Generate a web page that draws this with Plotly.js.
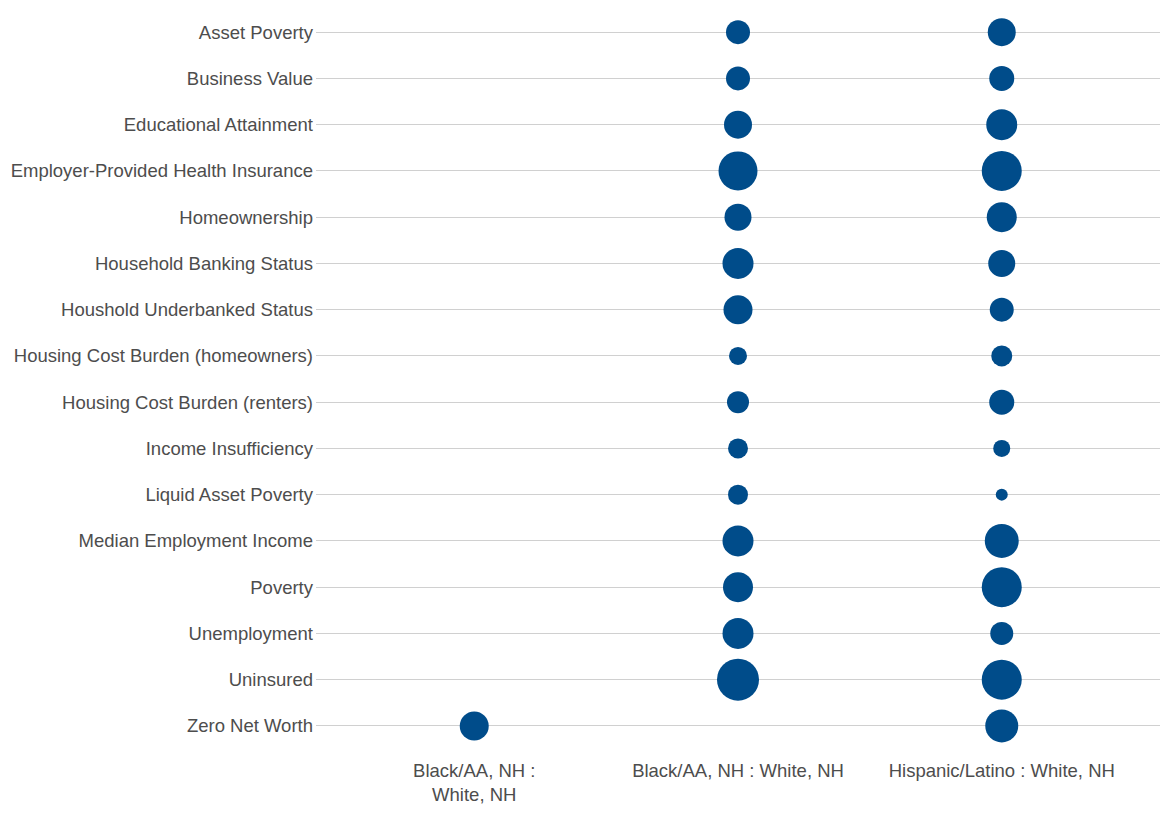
<!DOCTYPE html>
<html>
<head>
<meta charset="utf-8">
<script src="https://cdn.plot.ly/plotly-3.0.1.min.js"></script>
<style>html,body{margin:0;padding:0;background:#fff;}#chart{width:1170px;height:814px;}</style>
</head>
<body>
<div id="chart"></div>
<script>
const indicators = [
  "Asset Poverty", "Business Value", "Educational Attainment",
  "Employer-Provided Health Insurance", "Homeownership",
  "Household Banking Status", "Houshold Underbanked Status",
  "Housing Cost Burden (homeowners)", "Housing Cost Burden (renters)",
  "Income Insufficiency", "Liquid Asset Poverty", "Median Employment Income",
  "Poverty", "Unemployment", "Uninsured", "Zero Net Worth"
];
const comparisons = ["Black/AA, NH :<br>White, NH", "Black/AA, NH : White, NH", "Hispanic/Latino : White, NH"];

// estimated magnitudes (relative bubble scale) per comparison
const blackWhiteA = [null, null, null, null, null, null, null, null, null, null, null, null, null, null, null, 2.9];
const blackWhiteB = [2.4, 2.4, 2.8, 3.9, 2.7, 3.1, 2.9, 1.8, 2.2, 2.0, 2.0, 3.1, 3.0, 3.1, 4.2, null];
const hispanicWhite = [2.8, 2.5, 3.1, 4.0, 3.0, 2.7, 2.4, 2.1, 2.5, 1.7, 1.2, 3.4, 4.0, 2.3, 4.0, 3.3];

const series = [blackWhiteA, blackWhiteB, hispanicWhite];
const traces = series.map((vals, i) => {
  const xs = [], ys = [], ss = [];
  vals.forEach((v, j) => { if (v !== null) { xs.push(comparisons[i]); ys.push(indicators[j]); ss.push(v); } });
  return {
    type: "scatter", mode: "markers", x: xs, y: ys,
    marker: { size: ss, sizemode: "diameter", sizeref: 0.1, color: "#004c8a", opacity: 1, line: { width: 0 } },
    hoverinfo: "x+y", showlegend: false
  };
});

const layout = {
  width: 1170, height: 814,
  margin: { l: 316, r: 10, t: 9, b: 65 },
  paper_bgcolor: "#fff", plot_bgcolor: "#fff",
  font: { family: "Liberation Sans, Arial, sans-serif", size: 18.5, color: "#4d4d4d" },
  xaxis: {
    type: "category", categoryorder: "array", categoryarray: comparisons,
    range: [-0.6, 2.6], showgrid: false, zeroline: false, showline: false,
    ticks: "", ticklabelstandoff: 8, tickfont: { size: 18.5, color: "#4d4d4d" }
  },
  yaxis: {
    type: "category", categoryorder: "array", categoryarray: indicators,
    range: [15.5, -0.5], showgrid: true, gridcolor: "#d0d0d0", gridwidth: 1.2,
    zeroline: false, showline: false, ticks: "", ticklabelstandoff: 2,
    tickfont: { size: 18.5, color: "#4d4d4d" }
  }
};

Plotly.newPlot("chart", traces, layout, { displayModeBar: false, staticPlot: true });
</script>
</body>
</html>
